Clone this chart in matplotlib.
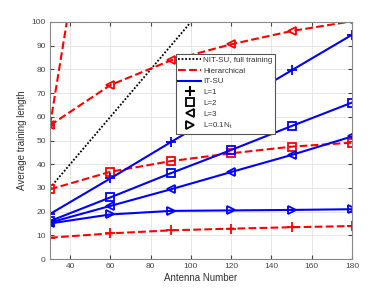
import matplotlib
matplotlib.use("Agg")
import matplotlib.pyplot as plt
from matplotlib.lines import Line2D

plt.rcParams['font.family'] = ['Liberation Sans', 'DejaVu Sans']

antennas = [30, 60, 90, 120, 150, 180]

# NIT-SU, full training
nit_full = [30, 60, 90, 120, 150, 180]

# Hierarchical
hier_L1 = [9.0, 10.8, 12.1, 12.8, 13.4, 13.9]
hier_L2 = [29.4, 36.8, 41.3, 44.6, 47.4, 49.1]
hier_L3 = [56.4, 73.4, 83.8, 90.6, 96.2, 100.3]
hier_L01 = [56.4, 213, 370, 527, 684, 841]

# IT-SU
it_L1 = [19.0, 34.0, 49.3, 64.5, 79.6, 94.6]
it_L2 = [16.0, 26.0, 36.2, 46.0, 56.1, 66.0]
it_L3 = [15.4, 22.4, 29.4, 36.7, 43.9, 51.7]
it_L01 = [15.0, 18.8, 20.3, 20.5, 20.7, 21.0]

labels = ["NIT-SU, full training", "Hierarchical", "IT-SU",
          "L=1", "L=2", "L=3", r"L=0.1N$_\mathregular{t}$"]

fig = plt.figure(figsize=(3.89, 2.92), dpi=100)
ax = fig.add_axes([50/389, 1-259/292, 302/389, 237/292])

ms = 6
lw = 1.5
ax.plot(antennas, nit_full, color='black', lw=1.3, dashes=(1, 1))
for y, m in [(hier_L1, '+'), (hier_L2, 's'), (hier_L3, '<'), (hier_L01, '>')]:
    ax.plot(antennas, y, '--', color='red', lw=lw, marker=m, ms=ms + (1 if m == '+' else 0),
            mfc='none', mew=1.3)
for y, m in [(it_L1, '+'), (it_L2, 's'), (it_L3, '<'), (it_L01, '>')]:
    ax.plot(antennas, y, '-', color='blue', lw=lw, marker=m, ms=ms + (1 if m == '+' else 0),
            mfc='none', mew=1.3)

ax.set_xlim(30, 180)
ax.set_ylim(0, 100)
ax.set_xticks(range(40, 181, 20))
ax.set_yticks(range(0, 101, 10))
ax.grid(True, color='#e3e3e3', lw=0.6)
ax.tick_params(direction='in', labelsize=6, colors='#444444', length=3,
               top=True, right=True, pad=3)
for s in ax.spines.values():
    s.set_color('#888888')
    s.set_linewidth(0.8)
ax.set_xlabel('Antenna Number', fontsize=7, color='#333333', labelpad=2)
ax.set_ylabel('Average training length', fontsize=7, color='#333333', labelpad=3)

lms = 5.5
handles = [
    Line2D([], [], color='black', lw=1.3, dashes=(1, 1)),
    Line2D([], [], ls='--', color='red', lw=1.5),
    Line2D([], [], ls='-', color='blue', lw=1.5),
    Line2D([], [], ls='none', marker='+', color='black', ms=lms + 1, mew=1.5),
    Line2D([], [], ls='none', marker='s', color='black', ms=lms, mfc='none', mew=1.3),
    Line2D([], [], ls='none', marker='<', color='black', ms=lms, mfc='none', mew=1.3),
    Line2D([], [], ls='none', marker='>', color='black', ms=lms, mfc='none', mew=1.3),
]
leg = ax.legend(handles, labels, loc='upper left',
                bbox_to_anchor=((176-50)/302, (259-54)/237),
                fontsize=5.8, fancybox=False, framealpha=1, edgecolor='#555555',
                borderpad=0.3, labelspacing=0.38, handlelength=2.8,
                handletextpad=0.3, borderaxespad=0)
leg.get_frame().set_linewidth(0.8)
for t in leg.get_texts():
    t.set_color('#333333')

fig.savefig('out.png', dpi=100)
